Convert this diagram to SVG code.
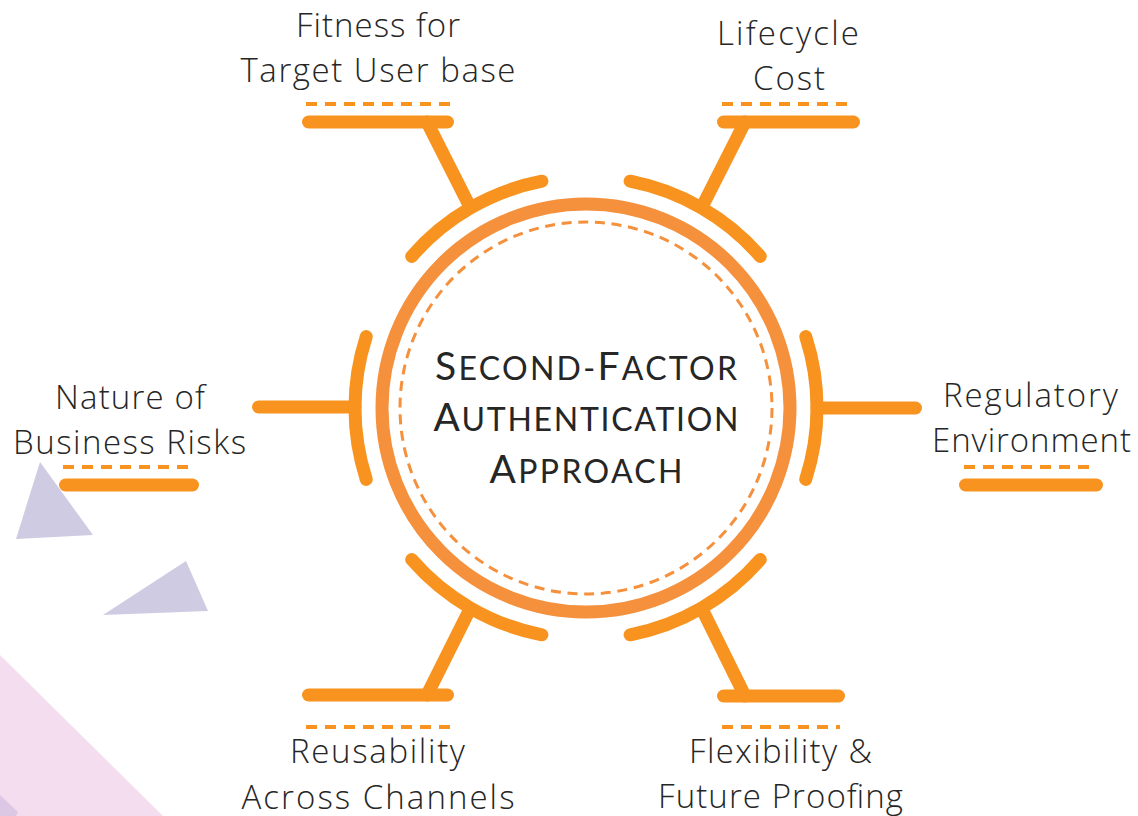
<svg xmlns="http://www.w3.org/2000/svg" width="1138" height="816" viewBox="0 0 1138 816">
<style>
.lbl{font-family:"Open Sans",Lato,"Liberation Sans",sans-serif;font-weight:300;font-size:33px;fill:#262626;text-anchor:middle}
.ctr{font-family:Lato,"Open Sans","Liberation Sans",sans-serif;font-weight:400;fill:#262626;text-anchor:middle}
.big{font-size:39px}
.sm{font-size:32px}
.arc{fill:none;stroke:#F7931E;stroke-width:13;stroke-linecap:round}
.bar{fill:none;stroke:#F7931E;stroke-width:13;stroke-linecap:round}
.con{fill:none;stroke:#F7931E;stroke-width:13;stroke-linecap:round}
.dsh{fill:none;stroke:#F7931E;stroke-width:4;stroke-dasharray:11 8}
</style>
<rect width="1138" height="816" fill="#ffffff"/>
<g id="background">
<polygon points="0,655 163,816 0,816" fill="#F3DDEE"/>
<polygon points="0,795 18,812 16,816 0,816" fill="#DCC7E4"/>
<polygon points="40,462 16,539 93,535" fill="#CFCBE3"/>
<polygon points="186,561 103,615 208,611" fill="#CFCBE3"/>
</g>
<g id="center">
<circle cx="586" cy="408" r="204" fill="none" stroke="#F5903D" stroke-width="13"/>
<circle cx="586" cy="408" r="186" fill="none" stroke="#F5903D" stroke-width="3" stroke-dasharray="10 6.7"/>
<text class="ctr" x="586" y="380" textLength="302" lengthAdjust="spacing"><tspan class="big">S</tspan><tspan class="sm">ECOND-</tspan><tspan class="big">F</tspan><tspan class="sm">ACTOR</tspan></text>
<text class="ctr" x="586" y="431" textLength="305" lengthAdjust="spacing"><tspan class="big">A</tspan><tspan class="sm">UTHENTICATION</tspan></text>
<text class="ctr" x="586" y="483" textLength="193" lengthAdjust="spacing"><tspan class="big">A</tspan><tspan class="sm">PPROACH</tspan></text>
</g>
<g id="connectors">
<path class="arc" d="M411.7,256.4 A231,231 0 0 1 541.9,181.2"/>
<path class="arc" d="M630.1,181.2 A231,231 0 0 1 760.3,256.4"/>
<path class="arc" d="M805.7,336.6 A231,231 0 0 1 805.7,479.4"/>
<path class="arc" d="M760.3,559.6 A231,231 0 0 1 630.1,634.8"/>
<path class="arc" d="M541.9,634.8 A231,231 0 0 1 411.7,559.6"/>
<path class="arc" d="M366.3,479.4 A231,231 0 0 1 366.3,336.6"/>
<line class="con" x1="469" y1="205" x2="427" y2="122"/>
<line class="con" x1="703" y1="205" x2="745" y2="122"/>
<line class="con" x1="817" y1="408" x2="915.5" y2="408"/>
<line class="con" x1="703" y1="611" x2="745" y2="696"/>
<line class="con" x1="469" y1="611" x2="427" y2="695"/>
<line class="con" x1="355" y1="407" x2="258.5" y2="407"/>
</g>
<g id="node-fitness">
<line class="bar" x1="308.5" y1="122" x2="447.5" y2="122"/>
<line class="dsh" x1="306" y1="104" x2="450" y2="104"/>
<text class="lbl" x="378" y="37" textLength="164" lengthAdjust="spacing">Fitness for</text>
<text class="lbl" x="378" y="82" textLength="275" lengthAdjust="spacing">Target User base</text>
</g>
<g id="node-lifecycle">
<line class="bar" x1="723.5" y1="122" x2="853.5" y2="122"/>
<line class="dsh" x1="722" y1="104" x2="847" y2="104"/>
<text class="lbl" x="788" y="45" textLength="142" lengthAdjust="spacing">Lifecycle</text>
<text class="lbl" x="789" y="90" textLength="72" lengthAdjust="spacing">Cost</text>
</g>
<g id="node-regulatory">
<line class="bar" x1="965.5" y1="485" x2="1096.5" y2="485"/>
<line class="dsh" x1="964" y1="467" x2="1090" y2="467"/>
<text class="lbl" x="1030.5" y="407" textLength="175" lengthAdjust="spacing">Regulatory</text>
<text class="lbl" x="1031.5" y="452" textLength="199" lengthAdjust="spacing">Environment</text>
</g>
<g id="node-flexibility">
<line class="bar" x1="723.5" y1="696" x2="838.5" y2="696"/>
<line class="dsh" x1="722" y1="727" x2="840" y2="727"/>
<text class="lbl" x="780.5" y="763" textLength="183" lengthAdjust="spacing">Flexibility &amp;</text>
<text class="lbl" x="780.5" y="808" textLength="245" lengthAdjust="spacing">Future Proofing</text>
</g>
<g id="node-reusability">
<line class="bar" x1="308.5" y1="695" x2="447.5" y2="695"/>
<line class="dsh" x1="306" y1="727" x2="450" y2="727"/>
<text class="lbl" x="377.5" y="763" textLength="175" lengthAdjust="spacing">Reusability</text>
<text class="lbl" x="378" y="809" textLength="273" lengthAdjust="spacing">Across Channels</text>
</g>
<g id="node-nature">
<line class="bar" x1="65.5" y1="485" x2="192.5" y2="485"/>
<line class="dsh" x1="63" y1="467" x2="190" y2="467"/>
<text class="lbl" x="130" y="409" textLength="150" lengthAdjust="spacing">Nature of</text>
<text class="lbl" x="129.5" y="454" textLength="233" lengthAdjust="spacing">Business Risks</text>
</g>
</svg>
